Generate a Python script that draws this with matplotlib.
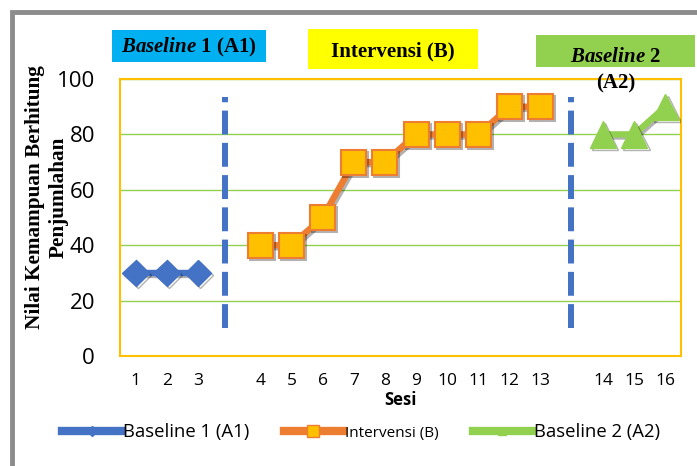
import matplotlib.pyplot as plt
import matplotlib.patheffects as pe
from matplotlib.lines import Line2D
from matplotlib.patches import Rectangle

# Sesi per fase
sesi_a1 = ['1', '2', '3']
sesi_b = ['4', '5', '6', '7', '8', '9', '10', '11', '12', '13']
sesi_a2 = ['14', '15', '16']

# Nilai per sesi
nilai_a1 = [30, 30, 30]
nilai_b = [40, 40, 50, 70, 70, 80, 80, 80, 90, 90]
nilai_a2 = [80, 80, 90]

# urutan kategori sumbu x, dengan satu kolom kosong di antara fase
kategori = sesi_a1 + [''] + sesi_b + [''] + sesi_a2
pos = {k: i for i, k in enumerate(kategori) if k}

plt.rcParams['mathtext.fontset'] = 'custom'
plt.rcParams['mathtext.it'] = 'Liberation Serif:italic:bold'
plt.rcParams['mathtext.rm'] = 'Liberation Serif:bold'

W, H = 697, 466
fig = plt.figure(figsize=(W / 100, H / 100), dpi=100)
ax = fig.add_axes([120 / W, 1 - 356 / H, (681 - 120) / W, (356 - 79) / H])

bayangan = [pe.SimpleLineShadow(offset=(1.5, -1.5), shadow_color='k', alpha=0.3), pe.Normal()]

ax.plot([pos[s] for s in sesi_a1], nilai_a1, color='#4472C4', lw=4.6,
        marker='D', ms=13.5, mfc='#4472C4', mec='#4472C4', path_effects=bayangan, zorder=4)
ax.plot([pos[s] for s in sesi_b], nilai_b, color='#ED7D31', lw=4.6,
        marker='s', ms=18, mfc='#FFC000', mec='#ED7D31', mew=1.5, path_effects=bayangan, zorder=4)
ax.plot([pos[s] for s in sesi_a2], nilai_a2, color='#92D050', lw=4.6,
        marker='^', ms=19, mfc='#92D050', mec='#92D050', path_effects=bayangan, zorder=4)

# garis batas fase
for xb in [2.87, 13.97]:
    ax.plot([xb, xb], [10, 93.5], color='#4472C4', lw=4.3, ls=(0, (4, 1.4)),
            solid_capstyle='butt', dash_capstyle='butt', zorder=3)

ax.set_xlim(-0.5, len(kategori) - 0.5)
ax.set_ylim(0, 100)
ax.set_yticks(range(0, 101, 20))
ax.set_xticks(range(len(kategori)))
ax.set_xticklabels(kategori)
ax.yaxis.grid(True, color='#92D050', lw=1)
ax.set_axisbelow(True)
for sp in ax.spines.values():
    sp.set_color('#FFC000')
    sp.set_linewidth(1.5)
ax.tick_params(length=0)
ax.tick_params(axis='y', labelsize=16, pad=18)
ax.tick_params(axis='x', labelsize=12.5, pad=12)
for t in ax.get_xticklabels() + ax.get_yticklabels():
    t.set_family('Open Sans')

ax.set_xlabel('Sesi', fontsize=12, fontweight='bold', family='Open Sans', labelpad=2)

# judul sumbu y, dua baris
label_y = dict(rotation=90, ha='center', va='center', family='Liberation Serif',
               fontweight='bold', fontsize=15.3)
fig.text(35 / W, 1 - 197 / H, 'Nilai Kemampuan Berhitung', **label_y)
fig.text(59 / W, 1 - 197 / H, 'Penjumlahan', **label_y)

# kotak judul fase
def kotak(x0, y0, x1, y1, warna):
    fig.patches.append(Rectangle((x0 / W, 1 - y1 / H), (x1 - x0) / W, (y1 - y0) / H,
                                 transform=fig.transFigure, facecolor=warna, edgecolor='none'))

kotak(112, 30, 266, 62, '#00B0F0')
kotak(308, 29, 478, 69, '#FFFF00')
kotak(536, 35, 695, 67, '#92D050')

serif = dict(family='Liberation Serif', fontweight='bold', fontsize=15, ha='center', va='center')
fig.text(189 / W, 1 - 47 / H, r'$\mathit{Baseline}$ 1 (A1)', **serif)
fig.text(393 / W, 1 - 51 / H, 'Intervensi (B)', **serif)
fig.text(616 / W, 1 - 57 / H, r'$\mathit{Baseline}$ 2', **serif)
fig.text(616 / W, 1 - 83 / H, '(A2)', **serif)

# bingkai abu-abu
fig.patches.append(Rectangle((11.5 / W, -0.1), 1.2, 1.1 - 11.5 / H, transform=fig.transFigure,
                             facecolor='none', edgecolor='#8C8C8C', lw=3.5))

handles = [
    Line2D([], [], color='#4472C4', lw=6, marker='D', ms=5, mfc='#4472C4', mec='#4472C4'),
    Line2D([], [], color='#ED7D31', lw=6, marker='s', ms=9, mfc='#FFC000', mec='#ED7D31'),
    Line2D([], [], color='#92D050', lw=6, marker='^', ms=6, mfc='#92D050', mec='#92D050'),
]
labels = ['Baseline 1 (A1)', 'Intervensi (B)', 'Baseline 2 (A2)']
leg = fig.legend(handles, labels, loc='center', bbox_to_anchor=(361 / W, 1 - 432 / H), ncol=3,
                 frameon=False, handlelength=3.2, handletextpad=0.1, columnspacing=1.85,
                 prop={'family': 'Open Sans', 'size': 13.3})
leg.get_texts()[1].set_fontsize(11)

fig.savefig('out.png', dpi=100)
